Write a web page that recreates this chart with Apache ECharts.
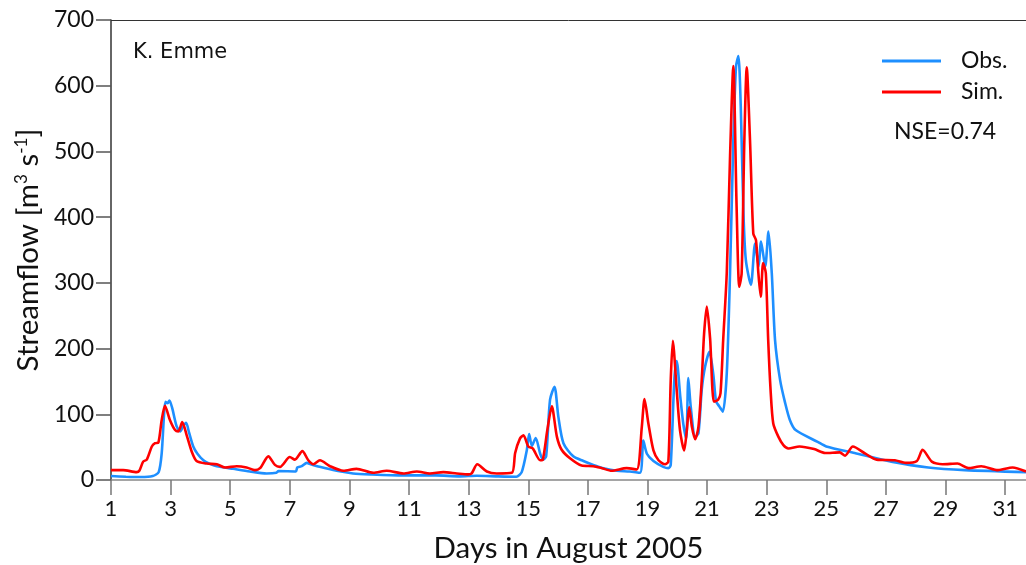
<!DOCTYPE html>
<html>
<head>
<meta charset="utf-8">
<script src="https://cdn.jsdelivr.net/npm/echarts@6/dist/echarts.min.js"></script>
<style>
html,body{margin:0;padding:0;background:#fff;}
#chart{width:1026px;height:565px;}
</style>
</head>
<body>
<div id="chart"></div>
<script>
var xTicks = [1,3,5,7,9,11,13,15,17,19,21,23,25,27,29,31];
var yTicks = [0,100,200,300,400,500,600,700];

var obsDays = [1.0,1.5,2.0,2.4,2.6,2.7,2.78,2.83,2.9,2.96,3.05,3.2,3.32,3.42,3.52,3.62,3.76,3.9,4.1,4.3,4.55,5.1,5.66,6.22,6.55,6.62,7.2,7.25,7.4,7.57,7.7,8.0,8.57,9.12,9.7,10.8,11.9,12.7,13.27,14.0,14.6,14.78,14.95,15.03,15.12,15.25,15.4,15.5,15.6,15.73,15.88,16.01,16.18,16.51,16.85,17.18,17.52,17.97,18.4,18.75,18.86,18.98,19.2,19.53,19.7,19.78,19.9,19.98,20.1,20.2,20.3,20.37,20.45,20.6,20.71,20.82,20.93,21.08,21.21,21.3,21.41,21.53,21.66,21.77,21.88,21.97,22.05,22.13,22.22,22.3,22.47,22.61,22.73,22.81,22.95,23.06,23.17,23.28,23.45,23.62,23.78,23.97,24.71,25.0,25.95,27.18,28.42,29.65,31.7];
var obsFlow = [6,5,4.5,6,12,40,100,119,117,121,110,82,74,82,87,72,51,40,30,25,21,17,13,10,11,13.5,13,19,21,26,24,20,14,10,8.5,7,7,5.5,6.5,5.5,5,12,45,70,52,64,40,31,36,122,142,96,56,36,29,23,18,14,13,11,60,40,29,20,18,23,152,181,127,86,63,155,112,66,71,137,172,195,160,120,112,104,162,315,517,629,645,568,406,335,297,360,325,363,325,378,315,213,152,117,91,76,58,51,41,28,19,15,12];

var simDays = [1.0,1.41,1.86,1.95,2.08,2.2,2.37,2.48,2.59,2.7,2.81,2.98,3.15,3.26,3.39,3.54,3.71,3.87,4.21,4.55,4.83,5.22,5.55,5.83,6.0,6.28,6.5,6.67,7.0,7.17,7.42,7.62,7.79,8.01,8.35,8.8,9.24,9.8,10.25,10.81,11.26,11.7,12.15,12.6,12.99,13.1,13.29,13.61,13.94,14.45,14.56,14.72,14.84,15.0,15.15,15.4,15.49,15.64,15.79,15.96,16.12,16.4,16.79,17.18,17.47,17.8,18.3,18.64,18.81,18.9,19.03,19.2,19.37,19.59,19.7,19.78,19.85,19.98,20.09,20.23,20.32,20.4,20.49,20.6,20.71,20.82,20.9,20.99,21.1,21.23,21.37,21.45,21.54,21.66,21.77,21.88,21.99,22.08,22.16,22.25,22.33,22.44,22.55,22.64,22.72,22.8,22.88,22.97,23.05,23.13,23.22,23.39,23.56,23.73,24.1,24.59,24.96,25.45,25.63,25.89,26.31,26.69,27.3,27.67,28.04,28.23,28.54,28.9,29.4,29.77,30.2,30.76,31.25,31.7];
var simFlow = [15,15,12,14,28,31,51,56,57,91,113,91,76,74,88,68,43,29,25,24,19,21,19,15,18,36,23,20,35,31,44,30,24,30,21,14,17,11,14,10,13,10,12,10,8.5,10,24,13,10,11,41,63,68,51,48,30,31,76,112,66,46,33,22,21,18,14,18,16,81,123,86,45,30,24,28,152,212,137,76,45,76,111,81,62,81,152,223,264,216,119,122,132,213,315,492,630,416,294,315,517,628,517,375,365,315,279,330,315,213,137,86,66,53,48,51,47,41,42,37,51,40,31,30,26,29,46,28,24,25,18,21,15,19,13];

function zip(a, b) { return a.map(function (v, i) { return [v, b[i]]; }); }

var FONT = 'Lato';
var chart = echarts.init(document.getElementById('chart'), null, {renderer: 'canvas'});
chart.setOption({
  animation: false,
  backgroundColor: '#fff',
  grid: {left: 111, right: 0, top: 20, bottom: 85, containLabel: false, outerBoundsMode: 'none'},
  legend: {
    orient: 'vertical', left: 877, top: 44,
    itemWidth: 59, itemHeight: 3, itemGap: 7, icon: 'rect',
    textStyle: {fontFamily: FONT, fontSize: 23, color: '#111', lineHeight: 24, padding: [0, 0, 0, 15]},
    data: ['Obs.', 'Sim.']
  },
  graphic: [
    {type: 'text', left: 133, top: 42, style: {text: 'K. Emme', font: '21px "DejaVu Sans"', fill: '#111'}},
    {type: 'text', left: 894, top: 120, style: {text: 'NSE=0.74', font: '23px Lato', fill: '#111'}}
  ],
  xAxis: [{
    type: 'value', min: 1, max: 31.7, interval: 2,
    name: 'Days in August 2005', nameLocation: 'middle', nameGap: 53,
    nameTextStyle: {fontFamily: FONT, fontSize: 29.5, color: '#111'},
    axisLine: {show: true, onZero: false, lineStyle: {color: '#888', width: 1.5}},
    axisTick: {show: true, length: 15, lineStyle: {color: '#777', width: 1.5},
      customValues: xTicks},
    axisLabel: {fontFamily: FONT, fontSize: 22, color: '#111', margin: 18,
      customValues: xTicks},
    splitLine: {show: false}
  }, {
    type: 'value', position: 'top', min: 1, max: 31.7,
    axisLine: {show: true, onZero: false, lineStyle: {color: '#333', width: 1}},
    axisTick: {show: false}, axisLabel: {show: false}, splitLine: {show: false}
  }],
  yAxis: {
    type: 'value', min: 0, max: 700, interval: 100,
    name: 'Streamflow [m{sup|3} s{sup|-1}]', nameLocation: 'middle', nameGap: 65,
    nameTextStyle: {fontFamily: FONT, fontSize: 29.5, color: '#111',
      rich: {sup: {fontFamily: FONT, fontSize: 17, verticalAlign: 'top', lineHeight: 29, padding: [0, 0, 12, 0], color: '#111'}}},
    axisLine: {show: true, lineStyle: {color: '#333', width: 1.5}},
    axisTick: {show: true, length: 15, lineStyle: {color: '#555', width: 1.5}},
    axisLabel: {fontFamily: FONT, fontSize: 23, color: '#111', margin: 17},
    splitLine: {show: false}
  },
  series: [
    {name: 'Obs.', type: 'line', data: zip(obsDays, obsFlow), showSymbol: false, smooth: 0.25,
      color: '#1E8FFF', lineStyle: {color: '#1E8FFF', width: 2.6}, z: 2},
    {name: 'Sim.', type: 'line', data: zip(simDays, simFlow), showSymbol: false, smooth: 0.25,
      color: '#FF0000', lineStyle: {color: '#FF0000', width: 2.6}, z: 3}
  ]
});
</script>
</body>
</html>
